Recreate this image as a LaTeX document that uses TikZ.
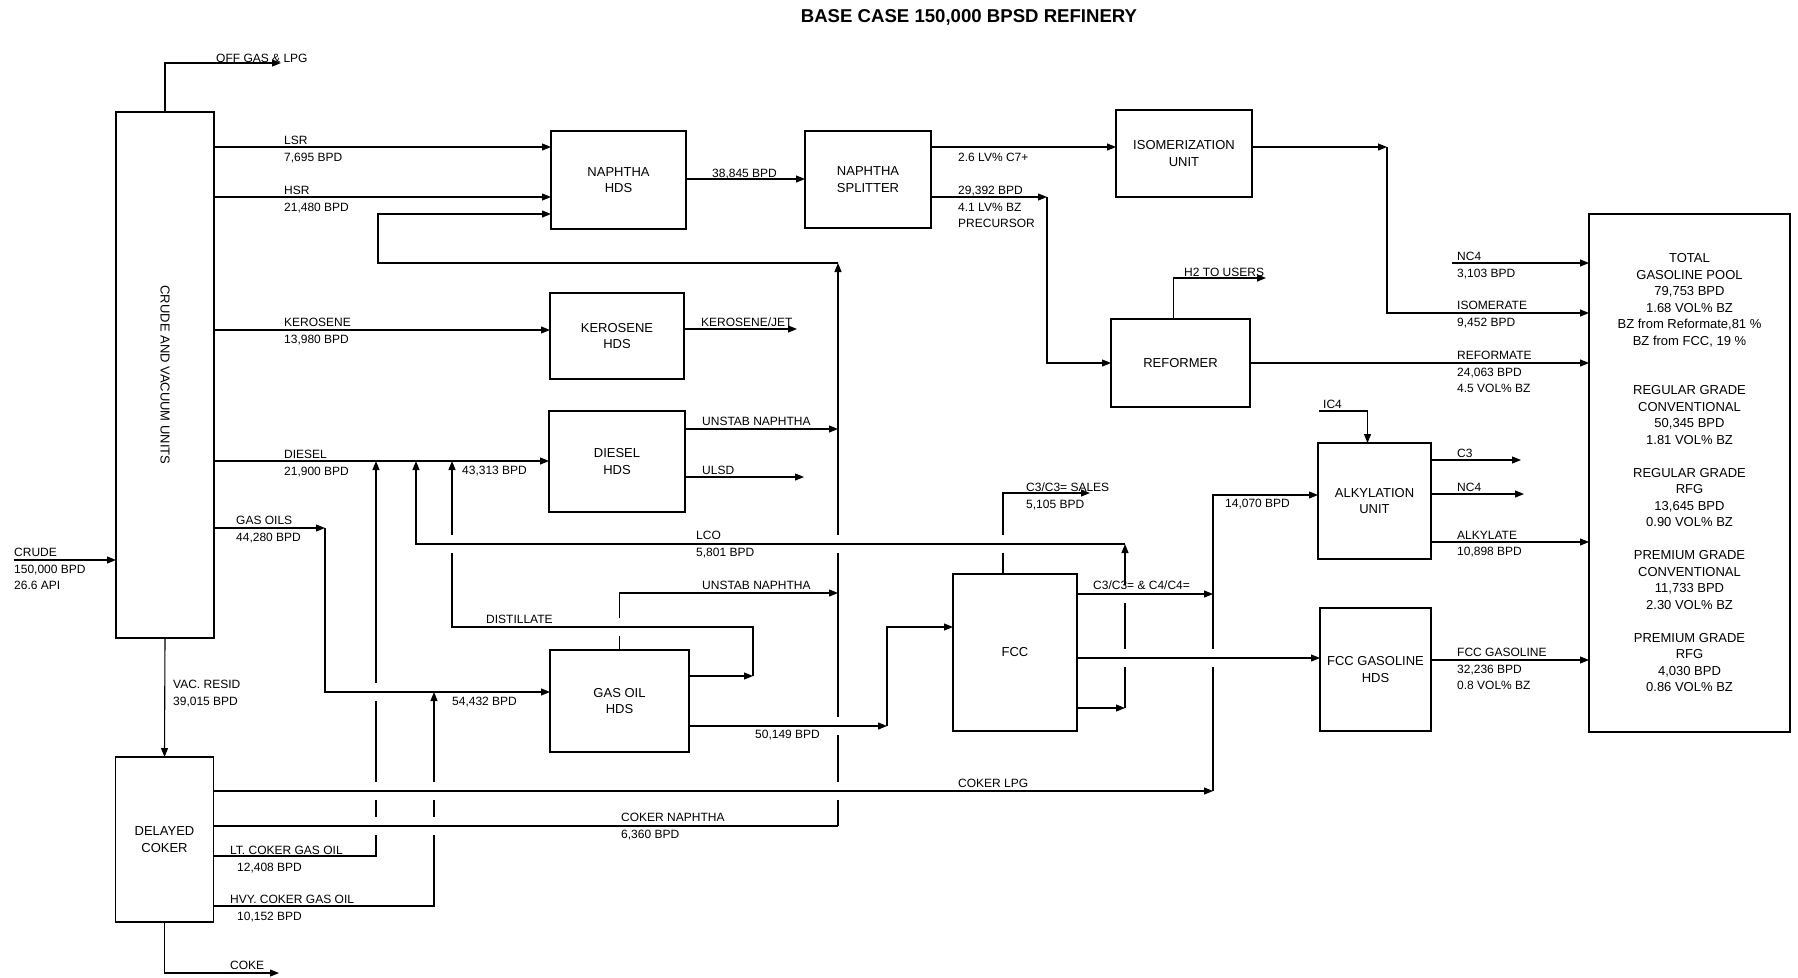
\documentclass[tikz,border=0pt]{standalone}
\usepackage{fontspec}
\setmainfont{Liberation Sans}
\usetikzlibrary{arrows.meta}
\pgfdeclarelayer{bg}
\pgfsetlayers{bg,main}
\tikzset{
  unit/.style={draw, line width=1.1pt, inner sep=0pt, outer sep=0pt, align=center, font=\fontsize{13}{16.5}\selectfont},
  flow/.style={draw, line width=1.1pt, -{Triangle[length=9pt,width=7pt]}},
  jump/.style={flow, preaction={draw=white, line width=18pt, -, shorten <=3pt, shorten >=3pt}},
  lbl/.style={anchor=north west, inner sep=0pt, yshift=4.3pt, align=left, font=\fontsize{12}{16.8}\selectfont},
}
\begin{document}
\begin{tikzpicture}[x=1pt, y=-1pt]
\useasboundingbox (0,0) rectangle (1798,977);
\node[anchor=base, inner sep=0pt, font=\bfseries\fontsize{18.6}{22}\selectfont] (title) at (969,22.7) {BASE CASE 150,000 BPSD REFINERY};
% units
\node[unit, minimum width=98pt, minimum height=526pt] (crude) at (165,375) {};
\node[rotate=-90, inner sep=0pt, font=\fontsize{13}{16.5}\selectfont] (crudetxt) at (crude.center) {CRUDE AND VACUUM UNITS};
\node[unit, minimum width=98pt, minimum height=165pt] (coker) at (164.5,839.5) {DELAYED\\COKER};
\node[unit, minimum width=135pt, minimum height=98pt] (nhds) at (618.5,180) {NAPHTHA\\HDS};
\node[unit, minimum width=126pt, minimum height=97pt] (split) at (868,179.5) {NAPHTHA\\SPLITTER};
\node[unit, minimum width=136pt, minimum height=87pt] (isom) at (1184,153.5) {ISOMERIZATION\\UNIT};
\node[unit, minimum width=134pt, minimum height=86pt] (kero) at (617,336) {KEROSENE\\HDS};
\node[unit, minimum width=136pt, minimum height=101pt] (dhds) at (617,461.5) {DIESEL\\HDS};
\node[unit, minimum width=139pt, minimum height=102pt] (gohds) at (619.5,701) {GAS OIL\\HDS};
\node[unit, minimum width=139pt, minimum height=88pt] (reform) at (1180.5,363) {REFORMER};
\node[unit, minimum width=124pt, minimum height=157pt] (fcc) at (1015,652.5) {FCC};
\node[unit, minimum width=113pt, minimum height=116pt] (alky) at (1374.5,501) {ALKYLATION\\UNIT};
\node[unit, minimum width=111pt, minimum height=123pt] (fccg) at (1375.5,669.5) {FCC GASOLINE\\HDS};
\node[unit, minimum width=201pt, minimum height=518pt] (pool) at (1689.5,473) {};
\node[anchor=north, inner sep=0pt, yshift=4.65pt, align=center, font=\fontsize{13}{16.5}\selectfont] (pooltxt) at (1689.5,258)
  {TOTAL\\GASOLINE POOL\\79,753 BPD\\1.68 VOL\% BZ\\BZ from Reformate,81 \%\\BZ from FCC, 19 \%\\[33pt]
   REGULAR GRADE\\CONVENTIONAL\\50,345 BPD\\1.81 VOL\% BZ\\[16.5pt]
   REGULAR GRADE\\RFG\\13,645 BPD\\0.90 VOL\% BZ\\[16.5pt]
   PREMIUM GRADE\\CONVENTIONAL\\11,733 BPD\\2.30 VOL\% BZ\\[16.5pt]
   PREMIUM GRADE\\RFG\\4,030 BPD\\0.86 VOL\% BZ};
% streams
\begin{pgfonlayer}{bg}
\coordinate (crudein) at (14,560);
\coordinate (offgas) at (281,63);
\coordinate (coke) at (279,973);
\coordinate (rcy) at (838,263);
\coordinate (rcyturn) at (378,214);
\coordinate (go1) at (325,528);
\coordinate (ltc) at (376,461);
\coordinate (hvc) at (434,692);
\coordinate (lpg) at (1213,791);
\coordinate (cnaph) at (838,826);
\coordinate (dist1) at (753,676);
\coordinate (dist2) at (452,627);
\coordinate (fcc1) at (887,726);
\coordinate (lco1) at (1125,708);
\coordinate (lco2) at (1125,544);
\coordinate (lco3) at (416,461);
\coordinate (sales) at (1090,493);
\coordinate (ref1) at (1047,197);
\coordinate (iso1) at (1387,147);
\coordinate (nc4in) at (1452,263);
\coordinate (h2) at (1266,278);
\coordinate (ic4) at (1319,411);
\coordinate (jet) at (797,329);
\coordinate (ulsd) at (804,477);
\coordinate (c3out) at (1521,460);
\coordinate (nc4out) at (1524,494);
\draw[flow] (crudein) -- (crude.west |- crudein);
\draw[flow] (crude.north) |- (offgas);
\draw[flow] (crude.east |- 0,147) -- (nhds.west |- 0,147);
\draw[flow] (crude.east |- 0,197) -- (nhds.west |- 0,197);
\draw[flow] (crude.east |- 0,330) -- (kero.west |- 0,330);
\draw[flow] (crude.east |- 0,461) -- (dhds.west |- 0,461);
\draw[flow] (crude.south) -- (coker.north);
\draw[flow] (coker.south) |- (coke);
\draw[flow] (nhds.east |- 0,179) -- (split.west |- 0,179);
\draw[flow] (split.east |- 0,147) -- (isom.west |- 0,147);
\draw[flow] (split.east |- ref1) -- (ref1);
\draw[flow] (ref1) |- (reform.west);
\draw[flow] (isom.east |- iso1) -- (iso1);
\draw[flow] (iso1) |- (pool.west |- 0,313);
\draw[flow] (nc4in) -- (pool.west |- nc4in);
\draw[flow] ([xshift=-7pt]reform.north) |- (h2);
\draw[flow] (reform.east) -- (pool.west |- reform.east);
\draw[flow] (ic4) -| ([xshift=-7pt]alky.north);
\draw[flow] (alky.east |- c3out) -- (c3out);
\draw[flow] (alky.east |- nc4out) -- (nc4out);
\draw[flow] (alky.east |- 0,542) -- (pool.west |- 0,542);
\draw[flow] (fccg.east |- 0,660) -- (pool.west |- 0,660);
\draw[flow] (kero.east |- jet) -- (jet);
\draw[flow] (dhds.east |- ulsd) -- (ulsd);
\draw[flow] (rcy) -| (rcyturn) -- (nhds.west |- rcyturn);
% lines that cross, in drawing order
\draw[flow] (coker.east |- 0,856) -| (ltc);
\draw[jump] (go1) |- (gohds.west |- hvc);
\draw[flow] (crude.east |- go1) -- (go1);
\draw[flow] (coker.east |- 0,906) -| (hvc);
\draw[jump, -] (coker.east |- cnaph) -- (cnaph);
\draw[flow] (cnaph) -- (rcy);
\draw[jump] (coker.east |- lpg) -- (lpg);
\draw[flow] (lpg) |- (alky.west |- 0,495);
\draw[flow] (dhds.east |- 0,429) -- (rcy |- 0,429);
\draw[flow] (gohds.north) |- (rcy |- 0,593);
\draw[jump] (dist1) |- (dist2) -- (dist2 |- ltc);
\draw[flow] (gohds.east |- dist1) -- (dist1);
\draw[flow] ([xshift=-12pt]fcc.north) |- (sales);
\draw[jump] (lco2) -| (lco3);
\draw[flow] (lco1) -- (lco2);
\draw[flow] (fcc.east |- lco1) -- (lco1);
\draw[jump] (fcc.east |- 0,594) -- (lpg |- 0,594);
\draw[jump] (fcc.east |- 0,658) -- (fccg.west |- 0,658);
\draw[jump] (gohds.east |- fcc1) -- (fcc1);
\draw[flow] (fcc1) |- (fcc.west |- 0,627);
\end{pgfonlayer}
% stream labels
\node[lbl] (offgaslbl) at (216,58) {OFF GAS \& LPG};
\node[lbl] (lsrlbl) at (284,140) {LSR\\7,695 BPD};
\node[lbl] (hsrlbl) at (284,190) {HSR\\21,480 BPD};
\node[lbl] (kerolbl) at (284,322) {KEROSENE\\13,980 BPD};
\node[lbl] (diesellbl) at (284,454) {DIESEL\\21,900 BPD};
\node[lbl] (gaslbl) at (236,520) {GAS OILS\\44,280 BPD};
\node[lbl] (crudelbl) at (14,552) {CRUDE\\150,000 BPD\\26.6 API};
\node[lbl] (vaclbl) at (173,684) {VAC. RESID\\39,015 BPD};
\node[lbl] (dmixlbl) at (462,470) {43,313 BPD};
\node[lbl] (gomixlbl) at (452,701) {54,432 BPD};
\node[lbl] (distlbl) at (486,619) {DISTILLATE};
\node[lbl] (ltclbl) at (230,850) {LT. COKER GAS OIL\\\hspace*{7pt}12,408 BPD};
\node[lbl] (hvclbl) at (230,899) {HVY. COKER GAS OIL\\\hspace*{7pt}10,152 BPD};
\node[lbl] (cokelbl) at (230,965) {COKE};
\node[lbl] (nhdslbl) at (712,173) {38,845 BPD};
\node[lbl] (c7lbl) at (958,157) {2.6 LV\% C7+};
\node[lbl] (heavylbl) at (958,190) {29,392 BPD\\4.1 LV\% BZ\\PRECURSOR};
\node[lbl] (jetlbl) at (701,322) {KEROSENE/JET};
\node[lbl] (unstabalbl) at (702,421) {UNSTAB NAPHTHA};
\node[lbl] (ulsdlbl) at (702,470) {ULSD};
\node[lbl] (lcolbl) at (696,535) {LCO\\5,801 BPD};
\node[lbl] (unstabblbl) at (702,585) {UNSTAB NAPHTHA};
\node[lbl] (golbl) at (755,734) {50,149 BPD};
\node[lbl] (lpglbl) at (958,783) {COKER LPG};
\node[lbl] (cnaphlbl) at (621,817) {COKER NAPHTHA\\6,360 BPD};
\node[lbl] (saleslbl) at (1026,487) {C3/C3= SALES\\5,105 BPD};
\node[lbl] (c34lbl) at (1093,585) {C3/C3= \& C4/C4=};
\node[lbl] (alkyfeedlbl) at (1225,503) {14,070 BPD};
\node[lbl] (h2lbl) at (1184,272) {H2 TO USERS};
\node[lbl] (ic4lbl) at (1323,404) {IC4};
\node[lbl] (nc4lbl) at (1457,256) {NC4\\3,103 BPD};
\node[lbl] (isolbl) at (1457,305) {ISOMERATE\\9,452 BPD};
\node[lbl] (reflbl) at (1457,355) {REFORMATE\\24,063 BPD\\4.5 VOL\% BZ};
\node[lbl] (c3lbl) at (1457,453) {C3};
\node[lbl] (nc4blbl) at (1457,487) {NC4};
\node[lbl] (alkylbl) at (1457,535) {ALKYLATE\\10,898 BPD};
\node[lbl] (fccglbl) at (1457,652) {FCC GASOLINE\\32,236 BPD\\0.8 VOL\% BZ};
\end{tikzpicture}
\end{document}
